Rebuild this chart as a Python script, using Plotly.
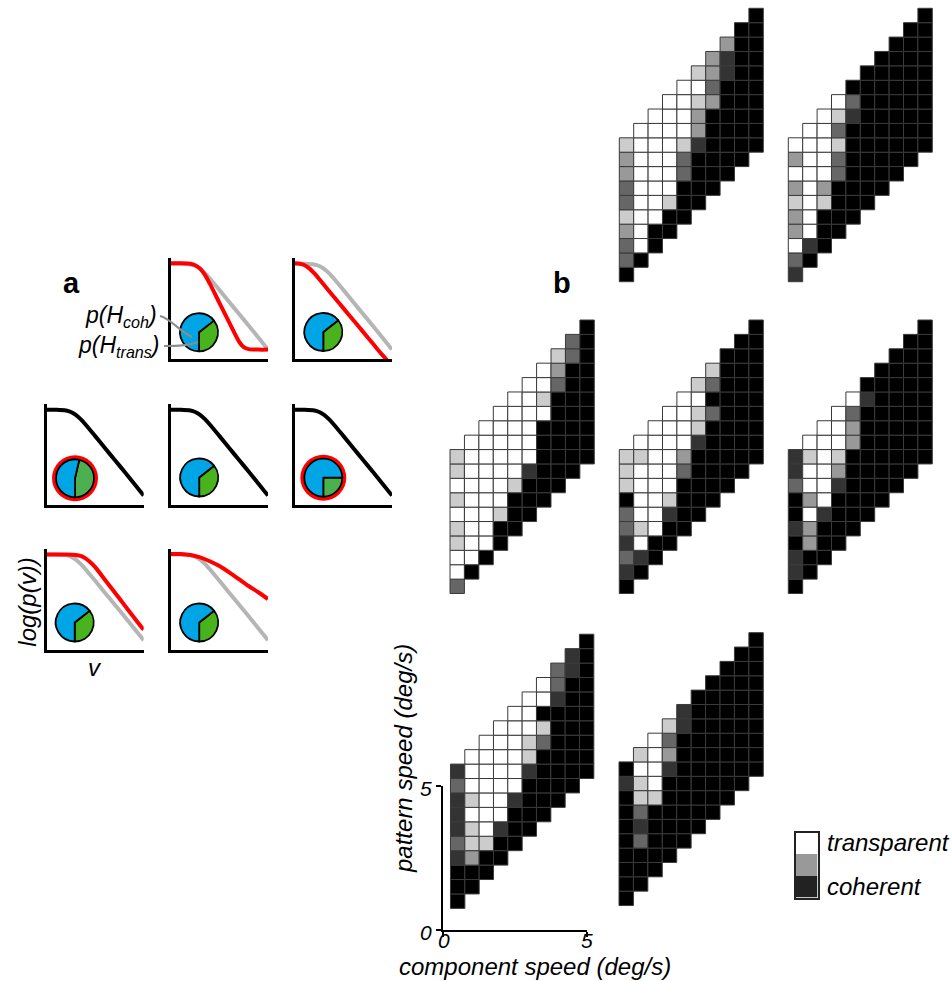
import plotly.graph_objects as go

# full 952 x 981 page; the body margin is removed after plotting
PAGE_OFF = 0
W, H = 952, 981

# ---------------- panel b data ----------------
component_speed = [0.5, 1.0, 1.5, 2.0, 2.5, 3.0, 3.5, 4.0, 4.5, 5.0]
pattern_speed = [1.0, 1.5, 2.0, 2.5, 3.0, 3.5, 4.0, 4.5, 5.0, 5.5, 6.0, 6.5,
                 7.0, 7.5, 8.0, 8.5, 9.0, 9.5, 10.0]
# grey-level codes: 0 = coherent (black) ... 5 = transparent (white)
# one list per component-speed column, cells from lowest pattern speed upward
grid_top_left = [
    [0, 2, 2, 3, 4, 2, 2, 3, 3, 4],
    [0, 5, 5, 5, 5, 5, 5, 5, 5, 5],
    [0, 0, 5, 5, 5, 5, 5, 5, 5, 5],
    [0, 0, 4, 5, 5, 5, 5, 5, 5, 5],
    [0, 0, 0, 2, 2, 4, 5, 5, 5, 5],
    [0, 0, 0, 0, 1, 3, 3, 4, 5, 4],
    [0, 0, 0, 0, 0, 0, 3, 2, 3, 3],
    [0, 0, 0, 0, 0, 0, 0, 1, 1, 3],
    [0, 0, 0, 0, 0, 0, 0, 0, 0, 0],
    [0, 0, 0, 0, 0, 0, 0, 0, 0, 0],
]
grid_top_right = [
    [1, 2, 5, 3, 3, 4, 3, 5, 3, 5],
    [0, 1, 5, 5, 5, 5, 5, 5, 5, 5],
    [0, 0, 0, 4, 3, 5, 5, 5, 5, 5],
    [0, 0, 0, 0, 2, 2, 4, 2, 4, 5],
    [0, 0, 0, 0, 0, 0, 0, 1, 2, 0],
    [0, 0, 0, 0, 0, 0, 0, 0, 0, 0],
    [0, 0, 0, 0, 0, 0, 0, 0, 0, 0],
    [0, 0, 0, 0, 0, 0, 0, 0, 0, 0],
    [0, 0, 0, 0, 0, 0, 0, 0, 0, 0],
    [0, 0, 0, 0, 0, 0, 0, 0, 0, 0],
]
grid_mid_left = [
    [2, 5, 5, 4, 4, 5, 4, 5, 4, 4],
    [0, 5, 5, 5, 5, 5, 5, 5, 5, 5],
    [0, 5, 5, 5, 5, 5, 5, 5, 5, 5],
    [0, 0, 4, 5, 5, 5, 5, 5, 5, 5],
    [0, 0, 0, 4, 5, 5, 5, 5, 5, 5],
    [0, 0, 0, 1, 5, 5, 5, 5, 5, 5],
    [0, 0, 0, 0, 0, 0, 5, 4, 5, 5],
    [0, 0, 0, 0, 0, 0, 0, 2, 3, 4],
    [0, 0, 0, 0, 0, 0, 0, 0, 2, 2],
    [0, 0, 0, 0, 0, 0, 0, 0, 0, 0],
]
grid_mid_center = [
    [0, 1, 2, 1, 2, 2, 0, 4, 4, 4],
    [0, 1, 5, 4, 5, 5, 5, 5, 4, 5],
    [0, 0, 5, 5, 5, 5, 5, 5, 5, 5],
    [0, 0, 1, 4, 5, 5, 5, 5, 5, 5],
    [0, 0, 0, 0, 2, 3, 5, 5, 5, 5],
    [0, 0, 0, 0, 0, 1, 4, 4, 5, 4],
    [0, 0, 0, 0, 0, 0, 2, 0, 2, 4],
    [0, 0, 0, 0, 0, 0, 0, 0, 0, 0],
    [0, 0, 0, 0, 0, 0, 0, 0, 0, 0],
    [0, 0, 0, 0, 0, 0, 0, 0, 0, 0],
]
grid_mid_right = [
    [0, 1, 1, 0, 1, 0, 0, 2, 1, 1],
    [0, 0, 3, 3, 5, 3, 5, 5, 4, 5],
    [0, 0, 0, 1, 5, 5, 5, 5, 5, 5],
    [0, 0, 0, 0, 1, 3, 4, 5, 5, 5],
    [0, 0, 0, 0, 0, 0, 3, 3, 2, 5],
    [0, 0, 0, 0, 0, 0, 0, 0, 1, 0],
    [0, 0, 0, 0, 0, 0, 0, 0, 0, 0],
    [0, 0, 0, 0, 0, 0, 0, 0, 0, 0],
    [0, 0, 0, 0, 0, 0, 0, 0, 0, 0],
    [0, 0, 0, 0, 0, 0, 0, 0, 0, 0],
]
grid_bottom_left = [
    [0, 0, 0, 1, 2, 1, 1, 1, 2, 1],
    [0, 0, 3, 4, 4, 5, 4, 5, 5, 5],
    [0, 0, 4, 5, 5, 5, 5, 5, 5, 5],
    [0, 0, 1, 5, 5, 5, 5, 5, 5, 5],
    [0, 0, 0, 1, 5, 5, 5, 5, 5, 5],
    [0, 0, 0, 0, 1, 4, 4, 5, 5, 5],
    [0, 0, 0, 0, 0, 2, 4, 0, 5, 5],
    [0, 0, 0, 0, 0, 0, 0, 1, 2, 2],
    [0, 0, 0, 0, 0, 0, 0, 0, 1, 1],
    [0, 0, 0, 0, 0, 0, 0, 0, 0, 0],
]
grid_bottom_right = [
    [0, 0, 0, 0, 0, 0, 0, 0, 1, 0],
    [0, 0, 0, 2, 1, 2, 4, 4, 5, 4],
    [0, 0, 0, 0, 0, 4, 5, 5, 5, 5],
    [0, 0, 0, 0, 0, 0, 1, 3, 2, 4],
    [0, 0, 0, 0, 0, 0, 0, 0, 1, 1],
    [0, 0, 0, 0, 0, 0, 0, 0, 0, 0],
    [0, 0, 0, 0, 0, 0, 0, 0, 0, 0],
    [0, 0, 0, 0, 0, 0, 0, 0, 0, 0],
    [0, 0, 0, 0, 0, 0, 0, 0, 0, 0],
    [0, 0, 0, 0, 0, 0, 0, 0, 0, 0],
]
axis_ticks = [0, 5]
axis_ticktext = ["0", "5"]
legend_levels = [0, 1, 2]
legend_labels = ["coherent", "transparent"]

# ---------------- panel a data ----------------
prior_x = [0, 0.1, 0.2, 0.25, 0.3, 0.35, 0.4, 0.5, 0.6, 0.7, 0.8, 0.9, 1.0]
prior_y = [0.985, 0.985, 0.978, 0.962, 0.932, 0.888, 0.833, 0.713, 0.59, 0.47, 0.348, 0.225, 0.10]
steep_x = [0, 0.1, 0.2, 0.25, 0.3, 0.35, 0.4, 0.5, 0.6, 0.65, 0.7, 0.75, 0.8, 0.9, 1.0]
steep_y = [0.99, 0.99, 0.985, 0.97, 0.935, 0.87, 0.78, 0.58, 0.38, 0.28, 0.185, 0.125, 0.105, 0.10, 0.10]
shift_x = [0, 0.05, 0.1, 0.15, 0.2, 0.3, 0.4, 0.5, 0.6, 0.7, 0.8, 0.9, 0.95]
shift_y = [0.99, 0.985, 0.97, 0.935, 0.885, 0.765, 0.645, 0.525, 0.405, 0.285, 0.165, 0.045, -0.01]
late_x = [0, 0.1, 0.2, 0.3, 0.35, 0.4, 0.45, 0.5, 0.6, 0.7, 0.8, 0.9, 0.97, 1.0]
late_y = [0.985, 0.985, 0.985, 0.98, 0.97, 0.945, 0.905, 0.855, 0.725, 0.595, 0.465, 0.335, 0.245, 0.21]
shallow_x = [0, 0.1, 0.2, 0.3, 0.4, 0.5, 0.6, 0.7, 0.8, 0.9, 1.0]
shallow_y = [0.99, 0.99, 0.98, 0.955, 0.915, 0.865, 0.80, 0.73, 0.66, 0.595, 0.525]
# pie shares in degrees (p(H_trans) green, p(H_coh) blue), one per small panel
pie_trans_deg = [128, 128, 167, 128, 90, 128, 128]
pie_coh_deg = [232, 232, 193, 232, 270, 232, 232]
pie_ringed = [False, False, True, False, True, False, False]

BLUE = "#00a5e5"
GREEN = "#48b31d"
GREEN_LIGHT = "#4cb050"
RED = "#ff0000"
GREY = "#b5b5b5"
FONT = "Liberation Sans, Arial, Helvetica, sans-serif"
CELL_PX = 14.4


def xd(p):
    return (p - PAGE_OFF) / W


def yd(p):
    return 1 - (p - PAGE_OFF) / H


fig = go.Figure()
layout = dict(width=W, height=H, autosize=False, margin=dict(l=0, r=0, t=0, b=0),
              paper_bgcolor="white", plot_bgcolor="rgba(0,0,0,0)", showlegend=False)


def ax_names(k):
    s = "" if k == 1 else str(k)
    return "xaxis" + s, "yaxis" + s, "x" + s, "y" + s


# ---------- grid panels ----------
panels = [grid_top_left, grid_top_right, grid_mid_left, grid_mid_center,
          grid_mid_right, grid_bottom_left, grid_bottom_right]
boxes = [  # x0, x1, ytop, ybottom (page px)
    (619.3, 763.3, 8.3, 281.7),
    (788.3, 932.3, 8.3, 281.7),
    (450.0, 594.3, 320.0, 593.5),
    (619.3, 763.3, 320.0, 593.5),
    (788.3, 932.3, 320.0, 593.5),
    (450.5, 593.8, 634.2, 908.4),
    (619.0, 763.3, 632.7, 905.5),
]
for k, (cols, box) in enumerate(zip(panels, boxes), start=1):
    xs, ys, cs = [], [], []
    for c, col in enumerate(cols):
        for r, v in enumerate(col):
            xs.append(component_speed[c])
            ys.append(pattern_speed[c + r])
            cs.append(v)
    xa, ya, xr, yr = ax_names(k)
    fig.add_trace(go.Scatter(
        x=xs, y=ys, mode="markers", cliponaxis=False, hoverinfo="skip",
        marker=dict(symbol="square", size=CELL_PX, color=cs, cmin=0, cmax=5,
                    colorscale=[[0, "#000000"], [1, "#ffffff"]], showscale=False,
                    line=dict(color="#3a3a3a", width=1)),
        xaxis=xr, yaxis=yr))
    layout[xa] = dict(domain=[xd(box[0]), xd(box[1])], range=[0.25, 5.25], visible=False,
                      anchor=yr, fixedrange=True)
    layout[ya] = dict(domain=[yd(box[3]), yd(box[2])], range=[0.75, 10.25], visible=False,
                      anchor=xr, fixedrange=True)

# ---------- legend (grey scale key) ----------
xa, ya, xr, yr = ax_names(8)
fig.add_trace(go.Heatmap(z=[[v] for v in legend_levels], zmin=0, zmax=2,
                         colorscale=[[0, "#222222"], [0.5, "#999999"], [1, "#ffffff"]],
                         showscale=False, hoverinfo="skip", xaxis=xr, yaxis=yr))
box_style = dict(showline=True, mirror=True, linecolor="#222222", linewidth=1.5,
                 showticklabels=False, ticks="", showgrid=False, zeroline=False, fixedrange=True)
layout[xa] = dict(domain=[xd(795.5), xd(817.5)], range=[-0.5, 0.5], anchor=yr, **box_style)
layout[ya] = dict(domain=[yd(897.5), yd(832.5)], range=[-0.5, 2.5], anchor=xr, **box_style)

# ---------- axes of bottom-left panel ----------
xa, ya, xr, yr = ax_names(9)
fig.add_trace(go.Scatter(x=[], y=[], xaxis=xr, yaxis=yr, hoverinfo="skip"))
tick_style = dict(showline=True, linecolor="black", linewidth=2, ticks="outside", ticklen=5,
                  tickwidth=2, tickcolor="black", tickvals=axis_ticks, showticklabels=False,
                  showgrid=False, zeroline=False, fixedrange=True)
layout[xa] = dict(domain=[xd(443.3), xd(586.7)], range=[0, 5], anchor=yr, **tick_style)
layout[ya] = dict(domain=[yd(930.0), yd(785.7)], range=[0, 5], anchor=xr, **tick_style)

# ---------- panel a: small prior plots ----------
small = [  # left px, bottom px, curves
    (171.0, 359.3, [(prior_x, prior_y, GREY), (steep_x, steep_y, RED)]),
    (295.0, 359.3, [(prior_x, prior_y, GREY), (shift_x, shift_y, RED)]),
    (46.7, 505.3, [(prior_x, prior_y, "black")]),
    (171.0, 505.3, [(prior_x, prior_y, "black")]),
    (295.0, 505.3, [(prior_x, prior_y, "black")]),
    (46.7, 650.0, [(prior_x, prior_y, GREY), (late_x, late_y, RED)]),
    (171.0, 650.0, [(prior_x, prior_y, GREY), (shallow_x, shallow_y, RED)]),
]
pie_centers = [(199.0, 332.3), (323.3, 332.0), (75.0, 478.3), (199.2, 477.5),
               (323.3, 477.7), (74.7, 622.5), (199.2, 622.5)]
UNIT = 97.0
small_axis = dict(showline=True, linecolor="black", linewidth=2.5, ticks="", showticklabels=False,
                  showgrid=False, zeroline=False, fixedrange=True)
for i, (L, B, curves) in enumerate(small):
    k = 10 + i
    xa, ya, xr, yr = ax_names(k)
    for cx, cy, col in curves:
        fig.add_trace(go.Scatter(x=cx, y=cy, mode="lines",
                                 line=dict(color=col, width=4, shape="spline", smoothing=0.8),
                                 hoverinfo="skip", xaxis=xr, yaxis=yr))
    layout[xa] = dict(domain=[xd(L), xd(L + UNIT)], range=[0, 1], anchor=yr, **small_axis)
    layout[ya] = dict(domain=[yd(B), yd(B - UNIT * 1.04)], range=[0, 1.04], anchor=xr, **small_axis)

# pies
for i, (pcx, pcy) in enumerate(pie_centers):
    r = 19.0
    if pie_ringed[i]:
        R = 23.0
        fig.add_trace(go.Pie(values=[1], marker=dict(colors=[RED], line=dict(width=0)),
                             domain=dict(x=[xd(pcx - R), xd(pcx + R)], y=[yd(pcy + R), yd(pcy - R)]),
                             textinfo="none", hoverinfo="skip", sort=False, showlegend=False))
    green = GREEN_LIGHT if pie_ringed[i] else GREEN
    fig.add_trace(go.Pie(values=[pie_trans_deg[i], pie_coh_deg[i]],
                         marker=dict(colors=[green, BLUE], line=dict(color="black", width=1.8)),
                         domain=dict(x=[xd(pcx - r), xd(pcx + r)], y=[yd(pcy + r), yd(pcy - r)]),
                         rotation=180 - pie_trans_deg[i], direction="clockwise", sort=False,
                         textinfo="none", hoverinfo="skip", showlegend=False))


def ann(text, x, y, size=24, angle=0, xanchor="center", yanchor="middle", bold=False):
    return dict(text=text, x=xd(x), y=yd(y), xref="paper", yref="paper", showarrow=False,
                textangle=angle, xanchor=xanchor, yanchor=yanchor,
                font=dict(family=FONT, size=size, color="black",
                          weight="bold" if bold else "normal"))


layout["annotations"] = [
    ann("a", 71.7, 283, size=29, bold=True),
    ann("b", 561.5, 283, size=29, bold=True),
    ann("<i>p(H<sub>coh</sub>)</i>", 159, 317, size=23, xanchor="right"),
    ann("<i>p(H<sub>trans</sub>)</i>", 162, 346, size=23, xanchor="right"),
    ann("<i>log(p(v))</i>", 26.7, 602, angle=-90),
    ann("<i>v</i>", 95, 667),
    ann("<i>pattern speed (deg/s)</i>", 403, 759, angle=-90),
    ann("<i>component speed (deg/s)</i>", 535, 966.5),
    ann("<i>" + legend_labels[1] + "</i>", 825, 842, xanchor="left"),
    ann("<i>" + legend_labels[0] + "</i>", 825, 886, xanchor="left"),
    # tick labels of the bottom-left panel
    ann("<i>" + axis_ticktext[0] + "</i>", 444, 940, size=21),
    ann("<i>" + axis_ticktext[1] + "</i>", 586.5, 940, size=21),
    ann("<i>" + axis_ticktext[0] + "</i>", 434, 932, size=21, xanchor="right"),
    ann("<i>" + axis_ticktext[1] + "</i>", 434, 788, size=21, xanchor="right"),
]


def pth(points):
    (x0, y0), (x1, y1), (x2, y2), (x3, y3) = points
    return "M {} {} C {} {}, {} {}, {} {}".format(xd(x0), yd(y0), xd(x1), yd(y1),
                                                 xd(x2), yd(y2), xd(x3), yd(y3))


layout["shapes"] = [
    dict(type="path", xref="paper", yref="paper", layer="above",
         path=pth([(160, 316), (170, 318), (179, 331), (192, 337)]),
         line=dict(color="#8c8c8c", width=2)),
    dict(type="path", xref="paper", yref="paper", layer="above",
         path=pth([(164, 346), (176, 346), (188, 346), (198, 342)]),
         line=dict(color="#8c8c8c", width=2)),
]

fig.update_layout(**layout)
fig.write_html("out.html", config={"displayModeBar": False},
               post_script="document.body.style.margin='0';")
